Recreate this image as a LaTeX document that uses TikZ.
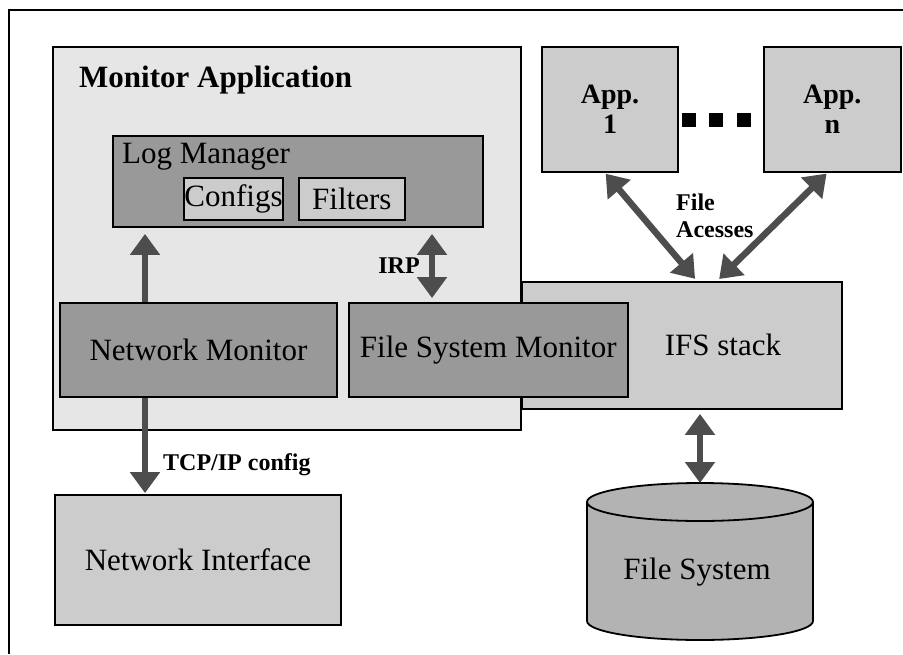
\documentclass[tikz,border=0pt]{standalone}
\usepackage{fontspec}
\setmainfont{Liberation Serif}
\usetikzlibrary{arrows.meta,positioning,calc}
\definecolor{panel}{HTML}{E6E6E6}
\definecolor{module}{HTML}{999999}
\definecolor{lightbox}{HTML}{CCCCCC}
\definecolor{disk}{HTML}{B3B3B3}
\definecolor{pipe}{HTML}{4D4D4D}
\tikzset{
  box/.style={draw=black,line width=1.8pt,inner sep=0pt,align=center,
    font=\fontsize{31}{36}\selectfont},
  panelbox/.style={box,fill=panel},
  modbox/.style={box,fill=module},
  plainbox/.style={box,fill=lightbox},
  appbox/.style={box,fill=lightbox,minimum width=136pt,minimum height=125pt,
    font=\bfseries\fontsize{28}{30}\selectfont},
  arrow/.style={-{Triangle[width=29pt,length=21pt]},draw=pipe,line width=6.5pt},
  dblarrow/.style={{Triangle[width=29pt,length=21pt]}-{Triangle[width=29pt,length=21pt]},
    draw=pipe,line width=6.5pt},
  labelstyle/.style={font=\bfseries\fontsize{24}{27}\selectfont,inner sep=0pt,align=left}
}

\begin{document}
\begin{tikzpicture}[x=1pt,y=-1pt]
  \useasboundingbox (0,0) rectangle (903,654);
  \draw[line width=2pt] (9,654) -- (9,10) -- (903,10);

  % monitor application and its modules
  \node[panelbox,minimum width=468pt,minimum height=383pt] (mon) at (287,238.5) {};
  \node[font=\bfseries\fontsize{31}{36}\selectfont,anchor=west,inner sep=0pt] (montxt) at (79,80) {Monitor Application};
  \node[plainbox,minimum width=320pt,minimum height=127pt] (ifs) at (682,345.5) {};
  \node[inner sep=0pt,font=\fontsize{31}{36}\selectfont] (ifstxt) at (723,345) {IFS stack};
  \node[modbox,minimum width=277pt,minimum height=94pt] (net) at (198.5,350) {Network Monitor};
  \node[modbox,minimum width=279pt,minimum height=94pt,right=10pt of net] (fsm) {File System Monitor};
  \node[modbox,minimum width=370pt,minimum height=91pt] (log) at (298,181.5) {};
  \node[anchor=west,inner sep=0pt,font=\fontsize{31}{36}\selectfont] (logtxt) at (122,157) {Log Manager};
  \node[plainbox,minimum width=99pt,minimum height=42pt] (cfg) at (233.5,199) {Configs};
  \node[plainbox,minimum width=106pt,minimum height=42pt,right=14pt of cfg] (flt) {Filters};

  % applications on top
  \node[appbox] (app1) at (610,109.5) {App.\\1};
  \node[appbox,minimum width=137pt,right=84pt of app1] (appn) {App.\\n};
  \foreach \x in {689,716,744}
    \fill (\x-7,113) rectangle (\x+7,127);

  % lower row
  \node[plainbox,minimum width=286pt,minimum height=130pt] (nic) at (198,560) {Network Interface};
  \path[draw=black,line width=1.8pt,fill=disk]
    (587,502) -- (587,621) arc[start angle=180,end angle=0,x radius=113,y radius=19]
    -- (813,502) arc[start angle=0,end angle=-180,x radius=113,y radius=19] -- cycle;
  \draw[line width=1.8pt] (587,502) arc[start angle=180,end angle=0,x radius=113,y radius=19];
  \coordinate (fstop) at (700,483);
  \node[inner sep=0pt,font=\fontsize{31}{36}\selectfont] (fs) at (697,572) {File System};

  % connectors
  \coordinate (netcol) at (145,0);
  \coordinate (irpcol) at (432,0);
  \draw[arrow,shorten >=6pt] (net.north -| netcol) -- (log.south -| netcol);
  \draw[arrow,shorten >=1pt] (net.south -| netcol) -- (nic.north -| netcol);
  \draw[dblarrow,shorten <=4pt,shorten >=6pt] (fsm.north -| irpcol) -- (log.south -| irpcol);
  \draw[dblarrow,shorten <=4pt] (ifs.south -| fstop) -- (fstop);
  \draw[dblarrow,shorten <=1pt,shorten >=3pt] ([xshift=-5pt]app1.south) -- ([xshift=15pt]ifs.north);
  \draw[dblarrow,shorten <=1pt,shorten >=3pt] ([xshift=-5pt]appn.south) -- ([xshift=35pt]ifs.north);

  \node[labelstyle] (irp) at (399,266) {IRP};
  \node[labelstyle,anchor=west] (tcp) at (163,465) {TCP/IP config};
  \node[labelstyle,anchor=west] (acc) at (676,216) {File\\Acesses};
\end{tikzpicture}
\end{document}
